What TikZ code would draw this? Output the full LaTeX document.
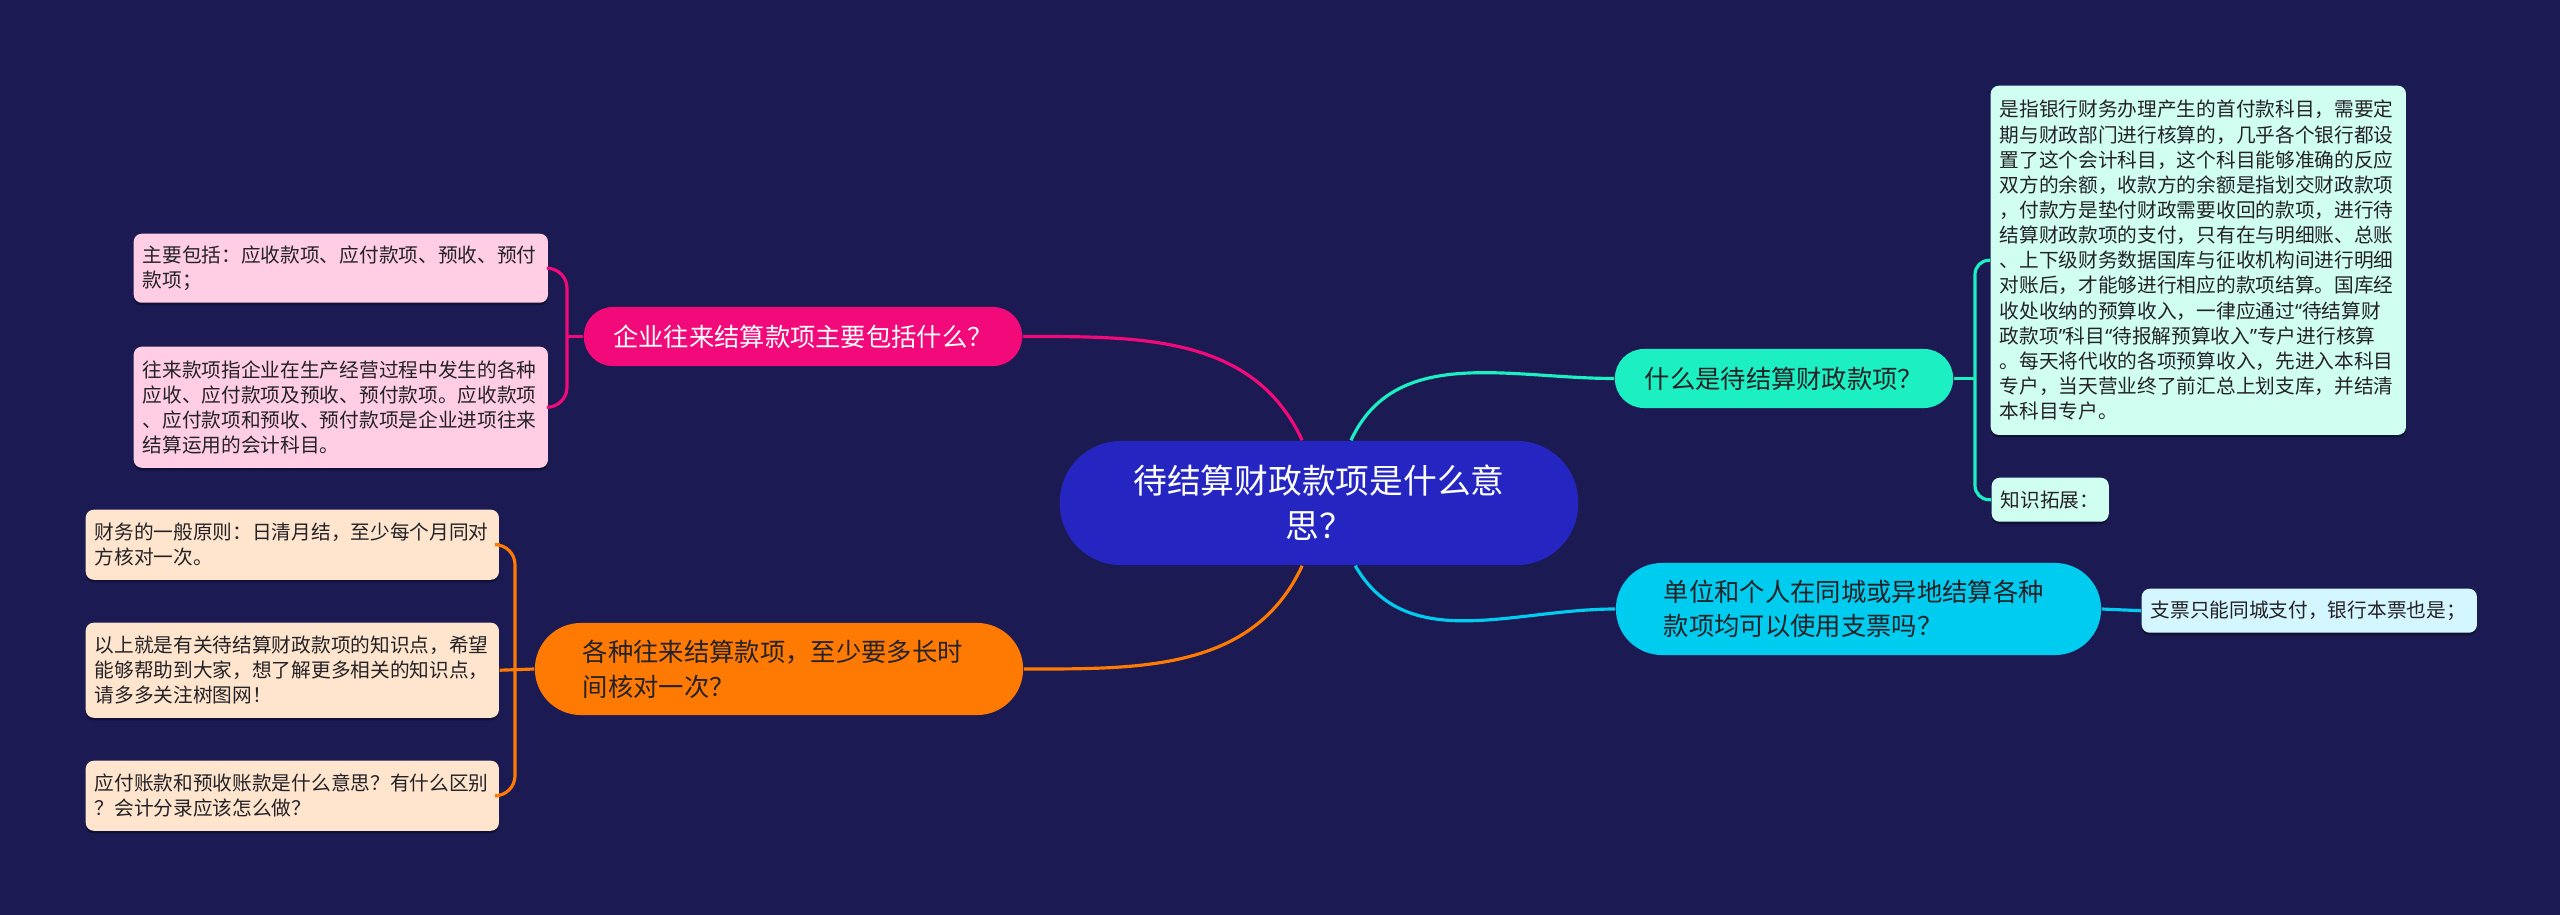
\documentclass[tikz,border=0pt]{standalone}
\usepackage{fontspec}
\setmainfont{Noto Sans CJK SC}
\newfontfamily\quotefont{Noto Sans}
\newcommand{\mapoq}{{\quotefont “}}
\newcommand{\mapcq}{{\quotefont ”}}
\usepackage{tikz}
\usetikzlibrary{positioning,calc,shadows}
\definecolor{mapBg}{RGB}{27,26,82}
\definecolor{mapRoot}{RGB}{37,38,194}
\definecolor{mapPink}{RGB}{242,10,122}
\definecolor{mapPinkLeaf}{RGB}{255,206,228}
\definecolor{mapOrange}{RGB}{255,122,2}
\definecolor{mapOrangeLeaf}{RGB}{255,229,206}
\definecolor{mapTeal}{RGB}{28,240,194}
\definecolor{mapTealLeaf}{RGB}{208,255,242}
\definecolor{mapCyan}{RGB}{0,204,240}
\definecolor{mapCyanLeaf}{RGB}{212,246,255}
\definecolor{mapInk}{RGB}{36,34,38}

\begin{document}
\begin{tikzpicture}[x=0.01cm, y=-0.01cm,
  rootnode/.style={fill=mapRoot, text=white, align=center, inner sep=0pt,
    minimum width=5.18cm, minimum height=1.24cm, rounded corners=0.61cm,
    font=\fontsize{9.6pt}{12.8pt}\selectfont},
  branch/.style={inner sep=0pt, text=mapInk, align=left,
    font=\fontsize{7.2pt}{9.8pt}\selectfont},
  leaf/.style={anchor=north west, align=left, inner xsep=0.09cm, inner ysep=0pt,
    rounded corners=0.08cm, text=mapInk,
    drop shadow={shadow xshift=0cm, shadow yshift=-0.025cm, opacity=0.35, fill=black},
    font=\fontsize{5.6pt}{7.15pt}\selectfont},
  link/.style={line width=0.9pt}]
  % Background
  \fill[mapBg] (0,0) rectangle (2560,915);
  \useasboundingbox (0,0) rectangle (2560,915);

  % Centre
  \node[rootnode] (root) at (1319,503) {待结算财政款项是什么意\\思？};

  % Branches
  \node[branch, fill=mapPink, text=white, minimum width=4.38cm, minimum height=0.59cm,
    rounded corners=0.29cm] (pink) at (803,336.5) {企业往来结算款项主要包括什么？};
  \node[branch, fill=mapOrange, text width=3.92cm, minimum width=4.88cm, minimum height=0.92cm,
    rounded corners=0.46cm, font=\fontsize{7.2pt}{10pt}\selectfont] (orange) at (779,669)
    {各种往来结算款项，至少要多长时\\间核对一次？};
  \node[branch, fill=mapTeal, minimum width=3.38cm, minimum height=0.59cm,
    rounded corners=0.29cm] (teal) at (1784,378.5) {什么是待结算财政款项？};
  \node[branch, fill=mapCyan, text width=3.89cm, minimum width=4.85cm, minimum height=0.92cm,
    rounded corners=0.46cm, font=\fontsize{7.2pt}{9.7pt}\selectfont] (cyan) at (1858.5,609)
    {单位和个人在同城或异地结算各种\\款项均可以使用支票吗？};

  % Leaves
  \node[leaf, fill=mapPinkLeaf, text width=3.96cm, minimum height=0.69cm] (pinkA) at (133,233)
    {主要包括：应收款项、应付款项、预收、预付\\款项；};
  \node[leaf, fill=mapPinkLeaf, text width=3.96cm, minimum height=1.21cm] (pinkB) at (133,346)
    {往来款项指企业在生产经营过程中发生的各种\\应收、应付款项及预收、预付款项。应收款项\\、应付款项和预收、预付款项是企业进项往来\\结算运用的会计科目。};
  \node[leaf, fill=mapOrangeLeaf, text width=3.95cm, minimum height=0.70cm] (orangeA) at (85,509)
    {财务的一般原则：日清月结，至少每个月同对\\方核对一次。};
  \node[leaf, fill=mapOrangeLeaf, text width=3.95cm, minimum height=0.95cm] (orangeB) at (85,622)
    {以上就是有关待结算财政款项的知识点，希望\\能够帮助到大家，想了解更多相关的知识点，\\请多多关注树图网！};
  \node[leaf, fill=mapOrangeLeaf, text width=3.95cm, minimum height=0.70cm] (orangeC) at (85,760)
    {应付账款和预收账款是什么意思？有什么区别\\？会计分录应该怎么做？};
  \node[leaf, fill=mapTealLeaf, text width=3.97cm, minimum height=3.49cm] (tealA) at (1990,85)
    {是指银行财务办理产生的首付款科目，需要定\\期与财政部门进行核算的，几乎各个银行都设\\置了这个会计科目，这个科目能够准确的反应\\双方的余额，收款方的余额是指划交财政款项\\，付款方是垫付财政需要收回的款项，进行待\\结算财政款项的支付，只有在与明细账、总账\\、上下级财务数据国库与征收机构间进行明细\\对账后，才能够进行相应的款项结算。国库经\\收处收纳的预算收入，一律应通过\mapoq 待结算财\\政款项\mapcq 科目\mapoq 待报解预算收入\mapcq 专户进行核算\\。每天将代收的各项预算收入，先进入本科目\\专户，当天营业终了前汇总上划支库，并结清\\本科目专户。};
  \node[leaf, fill=mapTealLeaf, text width=0.99cm, minimum height=0.44cm] (tealB) at (1991,477)
    {知识拓展：};
  \node[leaf, fill=mapCyanLeaf, text width=3.17cm, minimum height=0.44cm] (cyanA) at (2141,588)
    {支票只能同城支付，银行本票也是；};

  % Links from the centre
  \draw[link, mapPink] (pink.east) to[out=0, in=115] (root.105);
  \draw[link, mapOrange] (orange.east) to[out=0, in=-115] (root.255);
  \draw[link, mapTeal] (teal.west) to[out=180, in=65] (root.63);
  \draw[link, mapCyan] (cyan.west) to[out=180, in=-60] (root.300);

  % Brackets to the leaves
  \coordinate (pinkJ) at (567,336.5);
  \coordinate (orangeJ) at (515,669);
  \coordinate (tealJ) at (1975,378.5);
  \draw[link, mapPink] (pink.west) -- (pinkJ);
  \draw[link, mapPink, rounded corners=0.2cm] (pinkA.east) -| (pinkJ) |- (pinkB.east);
  \draw[link, mapOrange] (orange.west) -- (orangeB.east);
  \draw[link, mapOrange, rounded corners=0.2cm] (orangeA.east) -| (orangeJ) |- (orangeC.east);
  \draw[link, mapTeal] (teal.east) -- (tealJ);
  \draw[link, mapTeal, rounded corners=0.14cm] (tealA.west) -| (tealJ) |- (tealB.west);
  \draw[link, mapCyan] (cyan.east) -- (cyanA.west);
\end{tikzpicture}
\end{document}
